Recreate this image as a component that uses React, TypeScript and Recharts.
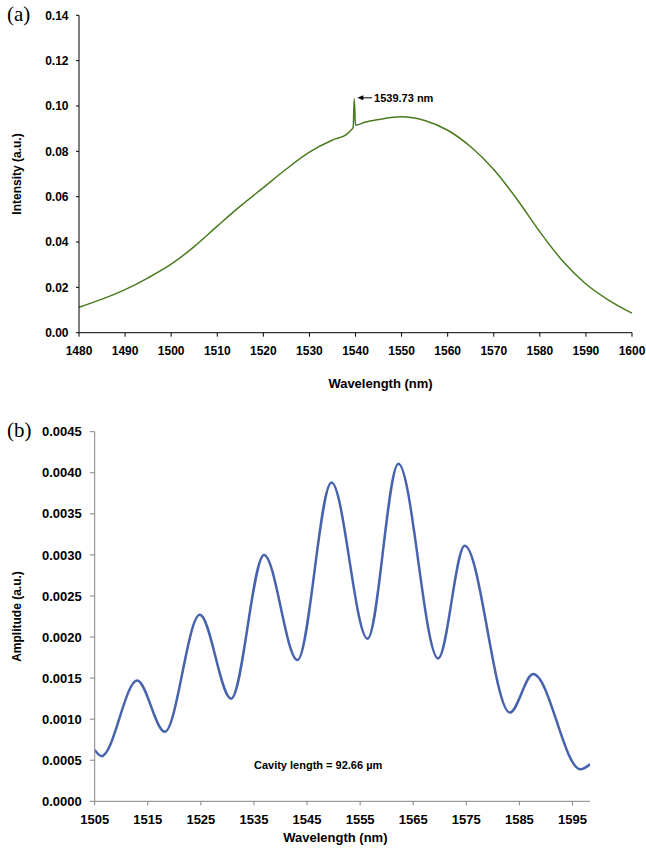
import React from 'react';
import { LineChart, Line, XAxis, YAxis, ReferenceLine, ReferenceDot, Label } from 'recharts';

// ---------- Panel (a) data ----------
const wavelengthA = [1480, 1485, 1490, 1495, 1500, 1505, 1510, 1515, 1520, 1525, 1530, 1535, 1538, 1539, 1539.5, 1539.73, 1540, 1542, 1545, 1550, 1555, 1560, 1565, 1570, 1575, 1580, 1585, 1590, 1595, 1600];
const intensityA = [0.0112, 0.0148, 0.019, 0.0242, 0.0302, 0.038, 0.047, 0.0558, 0.064, 0.0722, 0.0796, 0.085, 0.0874, 0.0893, 0.0905, 0.1032, 0.0915, 0.0928, 0.094, 0.0952, 0.0936, 0.0893, 0.082, 0.072, 0.059, 0.0445, 0.0315, 0.0215, 0.0143, 0.0086];
const ticksAx = [1480, 1490, 1500, 1510, 1520, 1530, 1540, 1550, 1560, 1570, 1580, 1590, 1600];
const ticksAy = [0, 0.02, 0.04, 0.06, 0.08, 0.1, 0.12, 0.14];
const peakLabel = '1539.73 nm';
const peakArrow = [{ x: 1543.6, y: 0.1036 }, { x: 1540.4, y: 0.1036 }];

// ---------- Panel (b) data ----------
const wavelengthB = [1505, 1506.3, 1513.0, 1518.2, 1524.8, 1530.7, 1536.9, 1543.2, 1549.6, 1556.4, 1562.2, 1569.7, 1574.7, 1583.2, 1587.6, 1596.5, 1598.3];
const amplitudeB = [0.000625, 0.00055, 0.00147, 0.000847, 0.00227, 0.00125, 0.0030, 0.00172, 0.00388, 0.00198, 0.00411, 0.00174, 0.00311, 0.00108, 0.00155, 0.00039, 0.00045];
const ticksBx = [1505, 1515, 1525, 1535, 1545, 1555, 1565, 1575, 1585, 1595];
const ticksBy = [0, 0.0005, 0.001, 0.0015, 0.002, 0.0025, 0.003, 0.0035, 0.004, 0.0045];
const cavityLabel = 'Cavity length = 92.66 µm';
const cavityPos = { x: 1535.0, y: 0.00044 };

const dataA = wavelengthA.map((w, i) => ({ w, v: intensityA[i] }));
const dataB = wavelengthB.map((w, i) => ({ w, v: amplitudeB[i] }));

const FONT = '"Liberation Sans", Arial, sans-serif';
const GREEN = '#4a7a1e';
const BLUE = '#4763ad';
const GRAY = '#858585';

const ArrowShape = (p: any) => {
  const { x1, y1, x2, y2 } = p;
  return (
    <g>
      <line x1={x1} y1={y1} x2={x2 + 4} y2={y2} stroke="#000" strokeWidth={1} />
      <polygon points={`${x2},${y2} ${x2 + 6},${y2 - 2.5} ${x2 + 6},${y2 + 2.5}`} fill="#000" />
      <text x={x1 + 2} y={y1 + 4} fontFamily={FONT} fontWeight="bold" fontSize={11} fill="#000">
        {peakLabel}
      </text>
    </g>
  );
};

const CavityText = (p: any) => (
  <text x={p.cx} y={p.cy + 4} fontFamily={FONT} fontWeight="bold" fontSize={11} fill="#000">
    {cavityLabel}
  </text>
);

const xTitle = (dx: number, dy: number) => (props: any) => {
  const vb = props.viewBox;
  return (
    <text x={vb.x + vb.width / 2 + dx} y={vb.y + dy} textAnchor="middle" fontFamily={FONT} fontWeight="bold" fontSize={13} fill="#000">
      Wavelength (nm)
    </text>
  );
};

const yTitle = (text: string) => (props: any) => {
  const vb = props.viewBox;
  const cx = 21;
  const cy = vb.y + vb.height / 2;
  return (
    <text x={cx} y={cy} transform={`rotate(-90 ${cx} ${cy})`} textAnchor="middle" fontFamily={FONT} fontWeight="bold" fontSize={12} fill="#000">
      {text}
    </text>
  );
};

export default function App() {
  return (
    <div style={{ position: 'absolute', left: 0, top: 0, width: 646, height: 848, background: '#fff' }}>
      <div style={{ position: 'absolute', left: 7, top: 2, fontFamily: '"Liberation Serif", "Times New Roman", serif', fontSize: 21 }}>(a)</div>
      <div style={{ position: 'absolute', left: 7, top: 418, fontFamily: '"Liberation Serif", "Times New Roman", serif', fontSize: 21 }}>(b)</div>
      <div style={{ position: 'absolute', left: 0, top: 0 }}>
        <LineChart width={646} height={420} data={dataA} margin={{ top: 15.3, right: 14, bottom: 57.3, left: 0 }}>
          <XAxis
            dataKey="w"
            type="number"
            domain={[1480, 1600]}
            ticks={ticksAx}
            interval={0}
            height={30}
            stroke="#000"
            tickSize={4}
            tickMargin={10}
            tick={{ fill: '#000', fontFamily: FONT, fontWeight: 'bold', fontSize: 12 }}
          >
            <Label content={xTitle(25, 55)} />
          </XAxis>
          <YAxis
            type="number"
            domain={[0, 0.14]}
            ticks={ticksAy}
            interval={0}
            width={79}
            stroke="#000"
            tickSize={3}
            tickMargin={7.5}
            tickFormatter={(v: number) => v.toFixed(2)}
            tick={{ fill: '#000', fontFamily: FONT, fontWeight: 'bold', fontSize: 12 }}
          >
            <Label content={yTitle('Intensity (a.u.)')} />
          </YAxis>
          <Line dataKey="v" type="monotone" stroke={GREEN} strokeWidth={1.5} dot={false} isAnimationActive={false} />
          <ReferenceLine segment={peakArrow} shape={ArrowShape} ifOverflow="visible" />
        </LineChart>
      </div>
      <div style={{ position: 'absolute', left: 0, top: 420 }}>
        <LineChart width={646} height={428} data={dataB} margin={{ top: 11.7, right: 56, bottom: 16.7, left: 0 }}>
          <XAxis
            dataKey="w"
            type="number"
            domain={[1505, 1598.3]}
            ticks={ticksBx}
            interval={0}
            allowDataOverflow
            height={30}
            stroke={GRAY}
            tickSize={4}
            tickMargin={9}
            tick={{ fill: '#000', fontFamily: FONT, fontWeight: 'bold', fontSize: 13 }}
          >
            <Label content={xTitle(-7, 41)} />
          </XAxis>
          <YAxis
            type="number"
            domain={[0, 0.0045]}
            ticks={ticksBy}
            interval={0}
            width={94.7}
            stroke={GRAY}
            tickSize={5}
            tickMargin={8}
            tickFormatter={(v: number) => v.toFixed(4)}
            tick={{ fill: '#000', fontFamily: FONT, fontWeight: 'bold', fontSize: 13 }}
          >
            <Label content={yTitle('Amplitude (a.u.)')} />
          </YAxis>
          <Line dataKey="v" type="monotone" stroke={BLUE} strokeWidth={2.5} dot={false} isAnimationActive={false} />
          <ReferenceDot x={cavityPos.x} y={cavityPos.y} r={0} shape={CavityText} ifOverflow="visible" />
        </LineChart>
      </div>
    </div>
  );
}
